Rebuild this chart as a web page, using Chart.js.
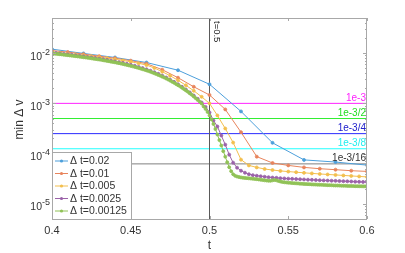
<!DOCTYPE html>
<html><head><meta charset="utf-8">
<script src="https://cdn.jsdelivr.net/npm/chart.js@4/dist/chart.umd.min.js"></script>
<style>html,body{margin:0;padding:0;background:#fff;}#wrap{width:405px;height:253px;}</style>
</head><body><div id="wrap"><canvas id="c" width="405" height="253"></canvas></div>
<script>
// ---- data ----
const tStart = 0.4;
const xRange = [0.4, 0.6];
const yRange = [5e-6, 5e-2];
const seriesLabels = ['\u0394 t=0.02', '\u0394 t=0.01', '\u0394 t=0.005', '\u0394 t=0.0025', '\u0394 t=0.00125'];
const dtSteps = [0.02, 0.01, 0.005, 0.0025, 0.00125];

const minDv_dt0020 = [1.20e-2, 9.86e-3, 8.20e-3, 6.50e-3, 4.57e-3, 2.40e-3, 6.92e-4, 1.64e-4, 7.50e-5, 6.80e-5, 5.90e-5];

const minDv_dt0010 = [1.12e-2, 1.05e-2, 9.55e-3, 8.71e-3, 7.94e-3, 7.08e-3, 6.17e-3, 4.68e-3, 3.24e-3, 2.14e-3,
  1.47e-3, 7.59e-4, 2.67e-4, 8.71e-5, 6.52e-5, 5.83e-5, 5.32e-5, 5.01e-5, 4.79e-5, 4.57e-5, 4.43e-5];

const minDv_dt0005 = [1.047e-2, 1.014e-2, 9.77e-3, 9.42e-3, 9.08e-3, 8.71e-3, 8.32e-3, 7.94e-3, 7.55e-3, 7.14e-3,
  6.73e-3, 6.28e-3, 5.78e-3, 5.06e-3, 4.27e-3, 3.55e-3, 2.88e-3, 2.29e-3, 1.78e-3, 1.35e-3,
  1.00e-3, 5.75e-4, 3.16e-4, 1.66e-4, 7.59e-5, 5.83e-5, 5.32e-5, 4.94e-5, 4.72e-5, 4.53e-5,
  4.39e-5, 4.27e-5, 4.15e-5, 4.04e-5, 3.94e-5, 3.85e-5, 3.77e-5, 3.68e-5, 3.60e-5, 3.52e-5, 3.44e-5];

const minDv_dt00025 = [1.023e-2, 1.005e-2, 9.86e-3, 9.64e-3, 9.46e-3, 9.25e-3, 9.04e-3, 8.83e-3, 8.63e-3, 8.39e-3,
  8.20e-3, 7.98e-3, 7.76e-3, 7.55e-3, 7.31e-3, 7.08e-3, 6.85e-3, 6.61e-3, 6.37e-3, 6.11e-3,
  5.86e-3, 5.60e-3, 5.32e-3, 5.04e-3, 4.76e-3, 4.47e-3, 4.17e-3, 3.87e-3, 3.56e-3, 3.27e-3,
  2.96e-3, 2.68e-3, 2.40e-3, 2.14e-3, 1.89e-3, 1.65e-3, 1.43e-3, 1.23e-3, 1.04e-3, 8.51e-4,
  6.61e-4, 4.57e-4, 3.47e-4, 2.29e-4, 1.51e-4, 9.55e-5, 6.61e-5, 5.25e-5, 4.57e-5, 4.17e-5,
  3.89e-5, 3.73e-5, 3.63e-5, 3.55e-5, 3.47e-5, 3.40e-5, 3.34e-5, 3.30e-5, 3.25e-5, 3.21e-5,
  3.18e-5, 3.15e-5, 3.12e-5, 3.09e-5, 3.06e-5, 3.03e-5, 3.01e-5, 2.98e-5, 2.95e-5, 2.93e-5,
  2.91e-5, 2.89e-5, 2.87e-5, 2.85e-5, 2.83e-5, 2.81e-5, 2.79e-5, 2.77e-5, 2.75e-5, 2.74e-5, 2.72e-5];

const minDv_dt000125 = [9.86e-3, 9.77e-3, 9.68e-3, 9.59e-3, 9.51e-3, 9.42e-3, 9.29e-3, 9.20e-3, 9.12e-3, 8.99e-3,
  8.91e-3, 8.79e-3, 8.71e-3, 8.59e-3, 8.51e-3, 8.39e-3, 8.28e-3, 8.20e-3, 8.09e-3, 7.98e-3,
  7.87e-3, 7.76e-3, 7.66e-3, 7.55e-3, 7.45e-3, 7.35e-3, 7.21e-3, 7.11e-3, 7.01e-3, 6.89e-3,
  6.76e-3, 6.67e-3, 6.55e-3, 6.43e-3, 6.31e-3, 6.19e-3, 6.08e-3, 5.94e-3, 5.83e-3, 5.70e-3,
  5.57e-3, 5.45e-3, 5.32e-3, 5.20e-3, 5.06e-3, 4.92e-3, 4.79e-3, 4.66e-3, 4.53e-3, 4.39e-3,
  4.25e-3, 4.11e-3, 3.96e-3, 3.82e-3, 3.68e-3, 3.55e-3, 3.40e-3, 3.27e-3, 3.12e-3, 2.98e-3,
  2.84e-3, 2.70e-3, 2.57e-3, 2.43e-3, 2.30e-3, 2.18e-3, 2.05e-3, 1.93e-3, 1.81e-3, 1.70e-3,
  1.58e-3, 1.48e-3, 1.37e-3, 1.27e-3, 1.17e-3, 1.08e-3, 9.91e-4, 8.71e-4, 7.76e-4, 6.76e-4,
  5.75e-4, 4.79e-4, 3.89e-4, 3.09e-4, 2.40e-4, 1.86e-4, 1.45e-4, 1.12e-4, 8.71e-5, 6.76e-5,
  5.37e-5, 4.47e-5, 3.89e-5, 3.63e-5, 3.50e-5, 3.42e-5, 3.36e-5, 3.31e-5, 3.28e-5, 3.25e-5,
  3.22e-5, 3.19e-5, 3.16e-5, 3.13e-5, 3.10e-5, 3.06e-5, 3.02e-5, 2.98e-5, 2.94e-5, 2.91e-5,
  2.88e-5, 2.88e-5, 2.94e-5, 2.98e-5, 2.94e-5, 2.86e-5, 2.78e-5, 2.73e-5, 2.69e-5, 2.67e-5,
  2.64e-5, 2.62e-5, 2.59e-5, 2.58e-5, 2.56e-5, 2.55e-5, 2.52e-5, 2.51e-5, 2.49e-5, 2.48e-5,
  2.47e-5, 2.46e-5, 2.44e-5, 2.43e-5, 2.42e-5, 2.41e-5, 2.40e-5, 2.39e-5, 2.38e-5, 2.37e-5,
  2.36e-5, 2.36e-5, 2.35e-5, 2.33e-5, 2.32e-5, 2.32e-5, 2.31e-5, 2.30e-5, 2.29e-5, 2.29e-5,
  2.28e-5, 2.27e-5, 2.27e-5, 2.26e-5, 2.25e-5, 2.25e-5, 2.24e-5, 2.24e-5, 2.23e-5, 2.23e-5, 2.22e-5];

const thresholds = [1e-3, 5e-4, 2.5e-4, 1.25e-4, 6.25e-5];
const thresholdLabels = ['1e-3', '1e-3/2', '1e-3/4', '1e-3/8', '1e-3/16'];
const tMark = 0.5;
const tMarkLabel = 't=0.5';
const xTickValues = [0.4, 0.45, 0.5, 0.55, 0.6];
const yTickExponents = [-2, -3, -4, -5];
const xTitle = 't';
const yTitle = 'min \u0394 v';

// ---- styles ----
const seriesColors = ['#4c9fdb', '#e8845c', '#f3bf4e', '#9b62a9', '#90c257'];
const thrColors = ['#ff22ff', '#33ee33', '#2a2aff', '#22ffff', '#808080'];
const thrTextColors = ['#ff22ff', '#22dd22', '#2020cc', '#22eeee', '#333333'];
const FONT = "'Liberation Sans', Arial, Helvetica, sans-serif";
const AXIS = '#a8a8a8';
const TEXT = '#333333';

const allSeries = [minDv_dt0020, minDv_dt0010, minDv_dt0005, minDv_dt00025, minDv_dt000125];
const datasets = [];
allSeries.forEach((vals, k) => {
  datasets.push({
    label: seriesLabels[k],
    data: vals.map((v, i) => ({x: tStart + i * dtSteps[k], y: v})),
    borderColor: seriesColors[k], backgroundColor: seriesColors[k],
    borderWidth: 1, pointRadius: 1.5, pointBorderWidth: 0.8, pointStyle: 'circle',
    order: 5 - k, isSeries: true
  });
});
thresholds.forEach((v, k) => {
  datasets.push({
    label: thresholdLabels[k],
    data: [{x: xRange[0], y: v}, {x: xRange[1], y: v}],
    borderColor: thrColors[k], borderWidth: 1, pointRadius: 0, order: 20
  });
});
datasets.push({
  label: tMarkLabel,
  data: [{x: tMark, y: yRange[0]}, {x: tMark, y: yRange[1]}],
  borderColor: '#5a5a5a', borderWidth: 1, pointRadius: 0, order: 19
});

const decor = {
  id: 'decor',
  afterDraw(chart) {
    const ctx = chart.ctx, ca = chart.chartArea;
    const xs = chart.scales.x, ys = chart.scales.y;
    ctx.save();
    // box
    ctx.strokeStyle = AXIS; ctx.lineWidth = 1;
    ctx.strokeRect(Math.round(ca.left) + 0.5, Math.round(ca.top) + 0.5, Math.round(ca.right - ca.left) - 1, Math.round(ca.bottom - ca.top));
    // x ticks inside
    ctx.beginPath();
    xTickValues.forEach(v => {
      const px = Math.round(xs.getPixelForValue(v)) + 0.5;
      ctx.moveTo(px, ca.bottom); ctx.lineTo(px, ca.bottom - 3);
      ctx.moveTo(px, ca.top); ctx.lineTo(px, ca.top + 3);
    });
    // y ticks inside (log minor ticks)
    for (let e = -6; e <= -1; e++) {
      for (let m = 1; m <= 9; m++) {
        const v = m * Math.pow(10, e);
        if (v < yRange[0] || v > yRange[1]) continue;
        const py = Math.round(ys.getPixelForValue(v)) + 0.5;
        const len = m === 1 ? 4 : 2;
        ctx.moveTo(ca.left, py); ctx.lineTo(ca.left + len, py);
        ctx.moveTo(ca.right, py); ctx.lineTo(ca.right - len, py);
      }
    }
    ctx.stroke();
    // y tick labels 10^e
    ctx.fillStyle = TEXT;
    yTickExponents.forEach(e => {
      const py = ys.getPixelForValue(Math.pow(10, e));
      const sup = String(e);
      ctx.font = '9px ' + FONT;
      const sw = ctx.measureText(sup).width;
      const xEnd = ca.left - 2;
      ctx.textAlign = 'left'; ctx.textBaseline = 'alphabetic';
      ctx.fillText(sup, xEnd - sw, py + 1.5);
      ctx.font = '10.5px ' + FONT;
      ctx.textAlign = 'right';
      ctx.fillText('10', xEnd - sw, py + 6.5);
    });
    // y title
    ctx.save();
    ctx.translate(20, (ca.top + ca.bottom) / 2 + 1);
    ctx.rotate(-Math.PI / 2);
    ctx.font = '12px ' + FONT; ctx.textAlign = 'center'; ctx.textBaseline = 'middle';
    ctx.fillText(yTitle, 0, 0);
    ctx.restore();
    // threshold labels
    ctx.font = '10px ' + FONT; ctx.textAlign = 'right'; ctx.textBaseline = 'alphabetic';
    thresholds.forEach((v, k) => {
      const py = ys.getPixelForValue(v);
      ctx.fillStyle = thrTextColors[k];
      ctx.fillText(thresholdLabels[k], ca.right - 1, py - 2.5);
    });
    // vertical line label
    ctx.save();
    const vx = xs.getPixelForValue(tMark);
    ctx.translate(vx + 2, ca.top + 3);
    ctx.rotate(Math.PI / 2);
    ctx.fillStyle = '#222'; ctx.font = '9.5px ' + FONT; ctx.textAlign = 'left'; ctx.textBaseline = 'bottom';
    ctx.fillText(tMarkLabel, 0, 0);
    ctx.restore();
    // legend
    const lx = Math.round(ca.left), lw = 79, lh = 67, ly = Math.round(ca.bottom) - lh;
    ctx.fillStyle = '#ffffff'; ctx.fillRect(lx, ly, lw, lh);
    ctx.strokeStyle = AXIS; ctx.strokeRect(lx + 0.5, ly + 0.5, lw, lh);
    ctx.font = '10.5px ' + FONT; ctx.textAlign = 'left'; ctx.textBaseline = 'middle';
    chart.data.datasets.filter(d => d.isSeries).forEach((d, i) => {
      const ry = ly + 9 + i * 12.5;
      ctx.strokeStyle = d.borderColor; ctx.lineWidth = 1;
      ctx.beginPath(); ctx.moveTo(lx + 3, ry); ctx.lineTo(lx + 16, ry); ctx.stroke();
      ctx.fillStyle = d.borderColor;
      ctx.beginPath(); ctx.arc(lx + 9.5, ry, 1.6, 0, Math.PI * 2); ctx.fill();
      ctx.fillStyle = TEXT;
      ctx.fillText(d.label, lx + 18, ry + 0.5);
    });
    ctx.restore();
  }
};

new Chart(document.getElementById('c'), {
  type: 'line',
  data: {datasets},
  options: {
    responsive: false, animation: false, devicePixelRatio: 1,
    layout: {padding: {top: 18, right: 38, left: 0, bottom: 0}},
    plugins: {legend: {display: false}, tooltip: {enabled: false}},
    elements: {line: {tension: 0}},
    scales: {
      x: {
        type: 'linear', min: xRange[0], max: xRange[1],
        border: {display: false}, grid: {display: false, drawTicks: false, tickLength: 0},
        afterBuildTicks: s => { s.ticks = xTickValues.map(v => ({value: v})); },
        ticks: {padding: 5, color: TEXT, font: {family: FONT, size: 11}, maxRotation: 0,
          callback: v => String(Math.round(v * 100) / 100)},
        title: {display: true, text: xTitle, color: TEXT, font: {family: FONT, size: 12}, padding: {top: 0, bottom: 0}},
        afterFit: s => { s.height = 34; }
      },
      y: {
        type: 'logarithmic', min: yRange[0], max: yRange[1],
        border: {display: false}, grid: {display: false},
        ticks: {display: false},
        afterFit: s => { s.width = 52; }
      }
    }
  },
  plugins: [decor]
});
</script></body></html>
